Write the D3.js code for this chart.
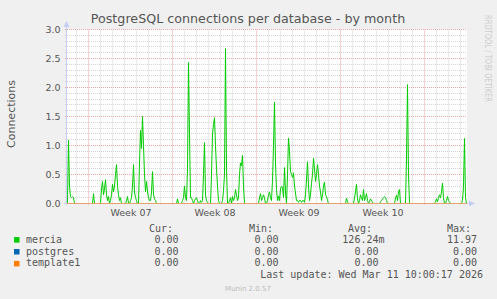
<!DOCTYPE html>
<html><head><meta charset="utf-8">
<script src="https://cdn.jsdelivr.net/npm/d3@7"></script>
<style>html,body{margin:0;padding:0;background:#f0f0f0;overflow:hidden}</style>
</head><body><svg id="c" width="497" height="299"></svg>
<script>
const title = "PostgreSQL connections per database - by month";
const yLabel = "Connections";
const yTickValues = [0, 0.5, 1, 1.5, 2, 2.5, 3];
const seriesNames = ["mercia", "postgres", "template1"];
const seriesColors = ["#00cc00", "#0066b3", "#ff8000"];
const legendHeaders = ["Cur:", "Min:", "Avg:", "Max:"];
const curValues = ["0.00", "0.00", "0.00"];
const minValues = ["0.00", "0.00", "0.00"];
const avgValues = ["126.24m", "0.00", "0.00"];
const maxValues = ["11.97", "0.00", "0.00"];
const lastUpdate = "Last update: Wed Mar 11 10:00:17 2026";
const footer = "Munin 2.0.57";
const watermark = "RRDTOOL / TOBI OETIKER";
const startTime = Date.UTC(2026, 1, 7, 6);
const endTime = Date.UTC(2026, 2, 12, 14);
const stepHours = 2;

const merciaValues = [
0,1.09,0.3,0.12,0.1,0.12,0.1,0,0,0,0,0,0,0,0,0,0,0,0,0,
0,0,0,0,0,0,0.17,0,0,0,0,0,0,0,0.25,0.38,0.15,0.25,0.41,0.15,
0.05,0.12,0,0.05,0.15,0.33,0.2,0.3,0.5,0.67,0.3,0.15,0.05,0.1,0,0,0,0,0,0.05,
0.12,0,0,0.05,0.1,0.3,0.67,0.2,0.1,0.05,0,0,0.7,1.26,0.95,1.5,1.0,0.5,0.2,0.38,
0.2,0.1,0.05,0.05,0.2,0.55,0.15,0.08,0.05,0,0,0,0,0,0,0,0,0,0,0,
0,0,0,0,0,0,0,0,0,0,0.08,0,0,0,0,0.05,0.1,0.3,0.1,0.05,
0.6,2.43,1.2,0.1,0.1,0.05,0,0.05,0.08,0.1,0.05,0,0,0.05,0.02,0.05,0.5,1.05,0.15,0.05,
0.02,0,0,0,0.5,1.2,1.36,1.48,1.0,0.6,0.3,0.05,0,0,0,0.05,0.22,0.5,2.67,0.6,
0,0,0.05,0.1,0,0.12,0.05,0.1,0.24,0.15,0.05,0.1,0.5,0.7,0.65,0.83,0.3,0,0,0,
0,0,0,0,0,0,0,0,0,0,0,0,0.1,0.17,0.05,0.1,0.15,0.1,0,0,
0.05,0.15,0.2,0.1,0.05,0.4,1.0,1.75,0.7,0.24,0.05,0.13,0.05,0.25,0.3,0.28,0.1,0.62,0.2,0,
0.5,1.13,0.9,0.55,0.5,0.45,0.53,0.3,0.18,0.05,0.05,0.02,0.05,0.05,0.02,0.05,0.05,0.02,0.15,0.4,
0.72,0.3,0.05,0.15,0.35,0.5,0.78,0.6,0.38,0.5,0.67,0.5,0.3,0.2,0.05,0.15,0.3,0.37,0.15,0.12,
0.05,0,0,0,0,0,0,0,0,0,0,0,0,0,0,0,0,0,0,0.09,
0.03,0,0,0,0,0,0,0.1,0.2,0.33,0.08,0,0.05,0.15,0.1,0.05,0.24,0.05,0.1,0.17,
0.05,0,0.03,0.08,0.05,0.02,0,0,0,0,0,0,0,0.03,0.05,0.08,0.1,0.12,0.1,0.05,
0,0,0,0,0,0,0,0,0.1,0.14,0.05,0.2,0.24,0,0,0,0,0,0,0.8,
2.05,0.5,0,0,0,0,0,0,0,0,0,0,0,0,0,0,0,0,0,0,
0,0,0,0,0,0,0,0,0.03,0.08,0.03,0.1,0.15,0.1,0.2,0.35,0.1,0,0,0.05,
0.12,0.05,0.03,0,0,0,0,0,0,0,0,0,0,0,0,0.05,0.3,1.12,0.1,0
];
const postgresValues = [
0,0,0,0,0,0,0,0,0,0,0,0,0,0,0,0,0,0,0,0,0,0,0,0,0,0,0,0,0,0,0,0,0,0,0,0,0,0,0,0,
0,0,0,0,0,0,0,0,0,0,0,0,0,0,0,0,0,0,0,0,0,0,0,0,0,0,0,0,0,0,0,0,0,0,0,0,0,0,0,0,
0,0,0,0,0,0,0,0,0,0,0,0,0,0,0,0,0,0,0,0,0,0,0,0,0,0,0,0,0,0,0,0,0,0,0,0,0,0,0,0,
0,0,0,0,0,0,0,0,0,0,0,0,0,0,0,0,0,0,0,0,0,0,0,0,0,0,0,0,0,0,0,0,0,0,0,0,0,0,0,0,
0,0,0,0,0,0,0,0,0,0,0,0,0,0,0,0,0,0,0,0,0,0,0,0,0,0,0,0,0,0,0,0,0,0,0,0,0,0,0,0,
0,0,0,0,0,0,0,0,0,0,0,0,0,0,0,0,0,0,0,0,0,0,0,0,0,0,0,0,0,0,0,0,0,0,0,0,0,0,0,0,
0,0,0,0,0,0,0,0,0,0,0,0,0,0,0,0,0,0,0,0,0,0,0,0,0,0,0,0,0,0,0,0,0,0,0,0,0,0,0,0,
0,0,0,0,0,0,0,0,0,0,0,0,0,0,0,0,0,0,0,0,0,0,0,0,0,0,0,0,0,0,0,0,0,0,0,0,0,0,0,0,
0,0,0,0,0,0,0,0,0,0,0,0,0,0,0,0,0,0,0,0,0,0,0,0,0,0,0,0,0,0,0,0,0,0,0,0,0,0,0,0,
0,0,0,0,0,0,0,0,0,0,0,0,0,0,0,0,0,0,0,0,0,0,0,0,0,0,0,0,0,0,0,0,0,0,0,0,0,0,0,0
];
const template1Values = [
0,0,0,0,0,0,0,0,0,0,0,0,0,0,0,0,0,0,0,0,0,0,0,0,0,0,0,0,0,0,0,0,0,0,0,0,0,0,0,0,
0,0,0,0,0,0,0,0,0,0,0,0,0,0,0,0,0,0,0,0,0,0,0,0,0,0,0,0,0,0,0,0,0,0,0,0,0,0,0,0,
0,0,0,0,0,0,0,0,0,0,0,0,0,0,0,0,0,0,0,0,0,0,0,0,0,0,0,0,0,0,0,0,0,0,0,0,0,0,0,0,
0,0,0,0,0,0,0,0,0,0,0,0,0,0,0,0,0,0,0,0,0,0,0,0,0,0,0,0,0,0,0,0,0,0,0,0,0,0,0,0,
0,0,0,0,0,0,0,0,0,0,0,0,0,0,0,0,0,0,0,0,0,0,0,0,0,0,0,0,0,0,0,0,0,0,0,0,0,0,0,0,
0,0,0,0,0,0,0,0,0,0,0,0,0,0,0,0,0,0,0,0,0,0,0,0,0,0,0,0,0,0,0,0,0,0,0,0,0,0,0,0,
0,0,0,0,0,0,0,0,0,0,0,0,0,0,0,0,0,0,0,0,0,0,0,0,0,0,0,0,0,0,0,0,0,0,0,0,0,0,0,0,
0,0,0,0,0,0,0,0,0,0,0,0,0,0,0,0,0,0,0,0,0,0,0,0,0,0,0,0,0,0,0,0,0,0,0,0,0,0,0,0,
0,0,0,0,0,0,0,0,0,0,0,0,0,0,0,0,0,0,0,0,0,0,0,0,0,0,0,0,0,0,0,0,0,0,0,0,0,0,0,0,
0,0,0,0,0,0,0,0,0,0,0,0,0,0,0,0,0,0,0,0,0,0,0,0,0,0,0,0,0,0,0,0,0,0,0,0,0,0,0,0
];
const allSeries = [merciaValues, postgresValues, template1Values];

const svg = d3.select("#c");
const W = 497, H = 299;
const L = 67, R = 467, T = 29.5, B = 203.5;
const DAY = 86400000;

svg.append("rect").attr("width", W).attr("height", H).attr("fill", "#f0f0f0");
svg.append("rect").attr("x", L).attr("y", 29).attr("width", R - L).attr("height", 174.5).attr("fill", "#ffffff");

const x = d3.scaleUtc().domain([startTime, endTime]).range([L, R]);
const y = d3.scaleLinear().domain([0, 3]).range([B, T]);

const grid = svg.append("g");
const isMajorY = v => Math.abs(v * 2 - Math.round(v * 2)) < 1e-6;
// minor horizontal
y.ticks(30).filter(v => !isMajorY(v)).forEach(v => {
  const yy = Math.round(y(v) - 0.5) + 0.5;
  grid.append("line").attr("x1", L - 2).attr("x2", R).attr("y1", yy).attr("y2", yy)
    .attr("stroke", "#d6d6d6").attr("stroke-dasharray", "1,1");
});
// minor vertical (days)
const mondays = d3.utcMonday.range(new Date(startTime), new Date(endTime));
const mondayKeys = new Set(mondays.map(d => +d));
d3.utcDay.range(new Date(startTime), new Date(endTime)).filter(d => !mondayKeys.has(+d)).forEach(d => {
  const xx = Math.round(x(d)) + 0.5;
  grid.append("line").attr("x1", xx).attr("x2", xx).attr("y1", T).attr("y2", B + 2)
    .attr("stroke", "#d6d6d6").attr("stroke-dasharray", "1,1");
});
// major horizontal
yTickValues.filter(v => v > 0).forEach(v => {
  const yy = Math.round(y(v) - 0.5) + 0.5;
  grid.append("line").attr("x1", L - 2).attr("x2", R).attr("y1", yy).attr("y2", yy)
    .attr("stroke", "#eba7a7").attr("stroke-dasharray", "1,1");
});
// major vertical (weeks)
mondays.forEach(d => {
  const xx = Math.round(x(d)) + 0.5;
  grid.append("line").attr("x1", xx).attr("x2", xx).attr("y1", T).attr("y2", B + 2)
    .attr("stroke", "#eba7a7").attr("stroke-dasharray", "1,1");
});

// y tick labels
const axisFont = "'DejaVu Sans', sans-serif";
yTickValues.forEach(v => {
  svg.append("text").attr("x", 60.5).attr("y", y(v) + 3.5).attr("text-anchor", "end")
    .attr("font-family", axisFont).attr("font-size", 9.5).attr("fill", "#555")
    .text(d3.format(".1f")(v));
});
// x week labels
const weekFmt = d3.utcFormat("%V");
mondays.filter(d => +d + 7 * DAY <= endTime).forEach(d => {
  svg.append("text").attr("x", x(new Date(+d + 3.5 * DAY)) + 1).attr("y", 216)
    .attr("text-anchor", "middle").attr("font-family", axisFont).attr("font-size", 9.5)
    .attr("fill", "#555").text("Week " + weekFmt(d));
});

// series lines
const line = d3.line()
  .x((d, i) => x(new Date(startTime + (i + 0.5) * stepHours * 3600000)))
  .y(d => y(d));
allSeries.forEach((vals, k) => {
  svg.append("path").datum(vals).attr("d", line).attr("fill", "none")
    .attr("stroke", seriesColors[k]).attr("stroke-width", 1).attr("stroke-linejoin", "round");
});

// axes with arrows
const axisColor = "#c5cdf5";
svg.append("line").attr("x1", L - 0.5).attr("x2", L - 0.5).attr("y1", B + 2).attr("y2", 24)
  .attr("stroke", axisColor);
svg.append("path").attr("d", `M${L - 3.5},27 L${L - 0.5},21 L${L + 2.5},27 Z`).attr("fill", axisColor);
svg.append("line").attr("x1", L - 3).attr("x2", R + 3).attr("y1", B).attr("y2", B)
  .attr("stroke", axisColor);
svg.append("path").attr("d", `M${R + 2},${B - 3} L${R + 8},${B} L${R + 2},${B + 3} Z`).attr("fill", axisColor);
// zero line of last series drawn over axis
svg.append("line").attr("x1", L).attr("x2", R).attr("y1", B).attr("y2", B)
  .attr("stroke", seriesColors[2]).attr("stroke-opacity", 0.55);

// title
svg.append("text").attr("x", 248).attr("y", 23).attr("text-anchor", "middle")
  .attr("font-family", axisFont).attr("font-size", 12.7).attr("fill", "#555").text(title);
// y label
svg.append("text").attr("transform", "translate(15,114) rotate(-90)").attr("text-anchor", "middle")
  .attr("font-family", axisFont).attr("font-size", 11).attr("fill", "#555").text(yLabel);
// watermark
svg.append("text").attr("transform", "translate(485,15) rotate(90)")
  .attr("font-family", axisFont).attr("font-size", 8).attr("fill", "#cccccc")
  .attr("textLength", 87).attr("lengthAdjust", "spacingAndGlyphs").text(watermark);

// legend
const mono = "'DejaVu Sans Mono', monospace";
const headerX = [149, 249, 348, 447];
legendHeaders.forEach((h, i) => {
  svg.append("text").attr("x", headerX[i]).attr("y", 232).attr("font-family", mono)
    .attr("font-size", 10).attr("fill", "#555").text(h);
});
const colRight = [178.5, 278.5, 378.5, 477];
const cols = [curValues, minValues, avgValues, maxValues];
seriesNames.forEach((name, k) => {
  const by = 242.6 + k * 11.9;
  svg.append("rect").attr("x", 14).attr("y", by - 5.5).attr("width", 5.5).attr("height", 5.5)
    .attr("fill", seriesColors[k]);
  svg.append("text").attr("x", 26).attr("y", by).attr("font-family", mono)
    .attr("font-size", 10).attr("fill", "#555").text(name);
  cols.forEach((col, c) => {
    const v = col[k];
    const suffix = /[a-zA-Z]$/.test(v);
    svg.append("text").attr("x", colRight[c] + (suffix ? 6 : 0)).attr("y", by)
      .attr("text-anchor", "end").attr("font-family", mono).attr("font-size", 10)
      .attr("fill", "#555").text(v);
  });
});
svg.append("text").attr("x", 483).attr("y", 278).attr("text-anchor", "end")
  .attr("font-family", mono).attr("font-size", 10).attr("fill", "#555").text(lastUpdate);
svg.append("text").attr("x", 248).attr("y", 290.5).attr("text-anchor", "middle")
  .attr("font-family", axisFont).attr("font-size", 7).attr("fill", "#bbbbbb").text(footer);
</script></body></html>
